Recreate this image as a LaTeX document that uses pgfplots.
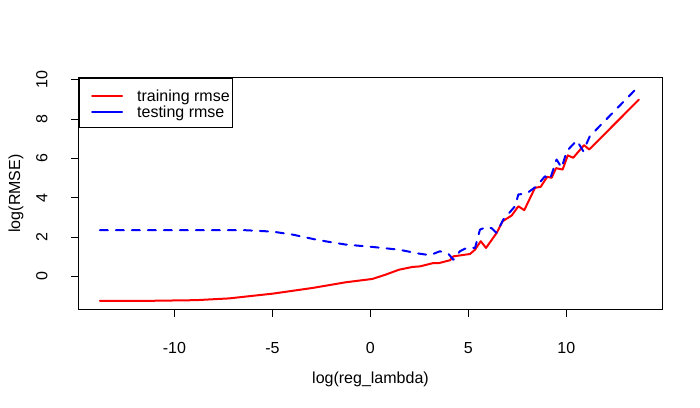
\documentclass[border=0pt]{standalone}
\usepackage{pgfplots}
\pgfplotsset{compat=1.18}
\usepackage{fontspec}
\setmainfont{Liberation Sans}
\begin{document}
\fontsize{16bp}{19bp}\selectfont
\begin{tikzpicture}
\path[use as bounding box] (-79bp,-99bp) rectangle (621bp,309bp);
\begin{axis}[
  at={(0,0)}, anchor=south west,
  scale only axis, width=583bp, height=231bp,
  xmin=-14.87, xmax=14.88, ymin=-1.66, ymax=10.1,
  axis line style={line width=1bp, black},
  xtick={-10,-5,0,5,10}, ytick={0,2,4,6,8,10},
  xtick pos=bottom, ytick pos=left,
  tick align=outside, major tick length=8bp,
  tick style={line width=1bp, black},
  minor tick num=0,
  /pgf/number format/assume math mode=true,
  xticklabel style={anchor=base}, xticklabel shift=36.5bp,
  yticklabel style={rotate=90, anchor=base}, yticklabel shift=23.5bp,
  xlabel={log(reg\_lambda)},
  ylabel={log(RMSE)},
  xlabel style={at={(axis description cs:0.5,-0.303)}, anchor=center},
  ylabel style={at={(axis description cs:-0.108,0.5)}, anchor=center},
  legend cell align=left,
  legend style={at={(0,1)}, anchor=north west, draw=black, line width=1bp, fill=white,
    inner xsep=2.5bp, inner ysep=8.65bp, column sep=14bp, row sep=0pt,
    cells={anchor=base west},
    nodes={inner sep=0pt, text height=14.35bp, text depth=1.35bp}},
  legend image code/.code={\path[draw=none,fill=none] (0bp,0bp) rectangle (40.2bp,6bp); \draw[#1,solid] (10.2bp,5.5bp) -- (40.2bp,5.5bp);},
]
\addplot[color=red, line width=2bp, line cap=round, line join=round] coordinates {
(-13.8,-1.24) (-11,-1.24) (-8.9,-1.21) (-7.2,-1.12) (-6.2,-1.01) (-5.0,-0.88)
(-2.96,-0.59) (-1.26,-0.30) (0.1,-0.13) (0.78,0.09) (1.46,0.34) (2.14,0.48)
(2.53,0.51) (3.21,0.68) (3.5,0.68) (4.06,0.82) (4.23,1.02) (5.08,1.14) (5.34,1.36)
(5.63,1.79) (5.90,1.45) (6.44,2.21) (6.75,2.81) (7.21,3.10) (7.55,3.57) (7.85,3.37)
(8.40,4.51) (8.69,4.56) (9.02,5.07) (9.25,5.02) (9.47,5.51) (9.81,5.44) (10.07,6.16)
(10.35,6.04) (10.90,6.68) (11.17,6.46) (13.7,9.0)
};
\addlegendentry{training rmse}
\addplot[color=blue, line width=2bp, line cap=round, line join=round, dash pattern=on 8bp off 8bp] coordinates {
(-13.8,2.35) (-6.36,2.35) (-5.0,2.28) (-3.98,2.13) (-2.62,1.84) (-1.26,1.62)
(0.1,1.50) (1.46,1.36) (2.48,1.16) (3.04,1.08) (3.55,1.28) (3.97,1.16) (4.23,0.85)
(4.57,1.28) (4.91,1.45) (5.34,1.45) (5.59,2.38) (5.93,2.52) (6.19,2.45) (6.44,2.21)
(6.78,2.89) (7.38,3.57) (7.55,4.17) (7.97,4.22) (8.48,4.59) (8.91,5.10) (9.16,4.93)
(9.50,5.95) (9.76,5.53) (10.02,6.38) (10.53,6.92) (10.86,6.38) (11.2,7.14) (13.7,9.69)
};
\addlegendentry{testing rmse}
\end{axis}
\end{tikzpicture}
\end{document}
